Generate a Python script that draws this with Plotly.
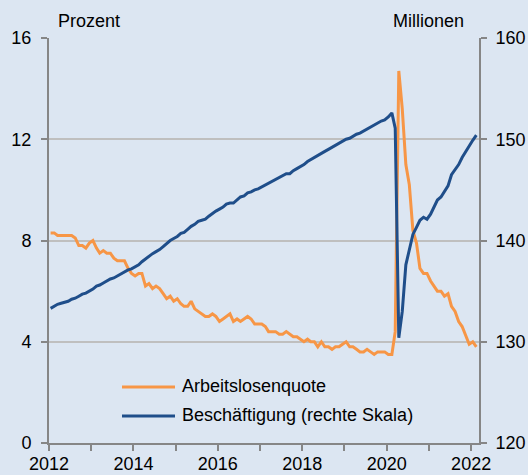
import plotly.graph_objects as go
import pandas as pd

# Monthly data, Jan 2012 - Feb 2022 (plotted mid-month)
months = pd.date_range("2012-01-01", periods=122, freq="MS") + pd.Timedelta(days=14)

unemployment_rate = [
    8.3, 8.3, 8.2, 8.2, 8.2, 8.2, 8.2, 8.1, 7.8, 7.8, 7.7, 7.9,   # 2012
    8.0, 7.7, 7.5, 7.6, 7.5, 7.5, 7.3, 7.2, 7.2, 7.2, 6.9, 6.7,   # 2013
    6.6, 6.7, 6.7, 6.2, 6.3, 6.1, 6.2, 6.1, 5.9, 5.7, 5.8, 5.6,   # 2014
    5.7, 5.5, 5.4, 5.4, 5.6, 5.3, 5.2, 5.1, 5.0, 5.0, 5.1, 5.0,   # 2015
    4.8, 4.9, 5.0, 5.1, 4.8, 4.9, 4.8, 4.9, 5.0, 4.9, 4.7, 4.7,   # 2016
    4.7, 4.6, 4.4, 4.4, 4.4, 4.3, 4.3, 4.4, 4.3, 4.2, 4.2, 4.1,   # 2017
    4.0, 4.1, 4.0, 4.0, 3.8, 4.0, 3.8, 3.8, 3.7, 3.8, 3.8, 3.9,   # 2018
    4.0, 3.8, 3.8, 3.7, 3.6, 3.6, 3.7, 3.6, 3.5, 3.6, 3.6, 3.6,   # 2019
    3.5, 3.5, 4.4, 14.7, 13.2, 11.0, 10.2, 8.4, 7.9, 6.9, 6.7, 6.7,  # 2020
    6.4, 6.2, 6.0, 6.0, 5.8, 5.9, 5.4, 5.2, 4.8, 4.6, 4.2, 3.9,   # 2021
    4.0, 3.8,                                                      # 2022
]

employment_mn = [
    133.3, 133.5, 133.7, 133.8, 133.9, 134.0, 134.2, 134.3, 134.5, 134.7, 134.8, 135.0,  # 2012
    135.2, 135.5, 135.6, 135.8, 136.0, 136.2, 136.3, 136.5, 136.7, 136.9, 137.1, 137.2,  # 2013
    137.4, 137.6, 137.9, 138.2, 138.4, 138.7, 138.9, 139.1, 139.4, 139.7, 140.0, 140.2,  # 2014
    140.4, 140.7, 140.8, 141.1, 141.4, 141.6, 141.9, 142.0, 142.1, 142.4, 142.7, 142.9,  # 2015
    143.1, 143.3, 143.6, 143.7, 143.7, 144.0, 144.3, 144.4, 144.7, 144.8, 145.0, 145.1,  # 2016
    145.3, 145.5, 145.6, 145.8, 146.0, 146.2, 146.4, 146.6, 146.6, 146.9, 147.1, 147.3,  # 2017
    147.5, 147.8, 148.0, 148.2, 148.4, 148.6, 148.8, 149.0, 149.2, 149.4, 149.6, 149.8,  # 2018
    150.0, 150.1, 150.3, 150.5, 150.6, 150.8, 151.0, 151.2, 151.4, 151.6, 151.8, 151.9,  # 2019
    152.2, 152.6, 151.1, 130.4, 133.0, 137.6, 139.0, 140.6, 141.3, 142.0, 142.3, 142.1,  # 2020
    142.6, 143.3, 144.0, 144.3, 144.8, 145.4, 146.5, 147.0, 147.5, 148.2, 148.8, 149.4,  # 2021
    149.9, 150.4,                                                                        # 2022
]

series_names = ["Arbeitslosenquote", "Beschäftigung (rechte Skala)"]
left_unit = "Prozent"
right_unit = "Millionen"

ORANGE = "#F79646"
BLUE = "#1F4E8A"
BG = "#DCE6F2"
AXIS = "#868686"
GRID = "#BFBFBF"
FONT = "Liberation Sans, Arial, sans-serif"

fig = go.Figure()
fig.add_trace(go.Scatter(x=months, y=unemployment_rate, mode="lines", name=series_names[0],
                         line=dict(color=ORANGE, width=3), yaxis="y"))
fig.add_trace(go.Scatter(x=months, y=employment_mn, mode="lines", name=series_names[1],
                         line=dict(color=BLUE, width=3), yaxis="y2"))

L, R, T, B = 49, 49, 38, 32
W, H = 528, 475
pw, ph = W - L - R, H - T - B

def px(x):
    return (x - L) / pw

def py(y):
    return (H - B - y) / ph

tick_common = dict(ticks="outside", ticklen=6, tickwidth=2, tickcolor=AXIS,
                   showline=True, linecolor=AXIS, linewidth=2, automargin=False,
                   tickfont=dict(family=FONT, size=18, color="black"), zeroline=False)

fig.update_layout(
    width=W, height=H,
    margin=dict(l=L, r=R, t=T, b=B, autoexpand=False),
    paper_bgcolor=BG, plot_bgcolor=BG,
    showlegend=False,
    hovermode=False,
    font=dict(family=FONT, size=18, color="black"),
    xaxis=dict(type="date", range=["2012-01-01", "2022-03-10"],
               tick0="2012-01-01", dtick="M24", tickformat="%Y",
               showgrid=False, ticklabelstandoff=-3,
               minor=dict(dtick="M12", tick0="2012-01-01", ticks="outside", ticklen=6,
                          tickwidth=2, tickcolor=AXIS, showgrid=False),
               **tick_common),
    yaxis=dict(range=[0, 16], tick0=0, dtick=4, showgrid=True, gridcolor=GRID, gridwidth=2,
               ticklabelstandoff=6, **tick_common),
    yaxis2=dict(range=[120, 160], tick0=120, dtick=10, overlaying="y", side="right",
                showgrid=False, ticklabelstandoff=5, **tick_common),
)

# axis unit labels
fig.add_annotation(x=px(56), y=py(21), xref="paper", yref="paper", text=left_unit,
                   showarrow=False, xanchor="left", yanchor="middle",
                   font=dict(family=FONT, size=18, color="black"))
fig.add_annotation(x=px(466), y=py(21), xref="paper", yref="paper", text=right_unit,
                   showarrow=False, xanchor="right", yanchor="middle",
                   font=dict(family=FONT, size=18, color="black"))

# legend (drawn manually to match the long line samples)
legend_rows = [(series_names[0], ORANGE, 387), (series_names[1], BLUE, 416)]
for name, color, yy in legend_rows:
    fig.add_shape(type="line", xref="paper", yref="paper",
                  x0=px(122), x1=px(175), y0=py(yy), y1=py(yy),
                  line=dict(color=color, width=3))
    fig.add_annotation(x=px(180), y=py(yy - 1), xref="paper", yref="paper", text=name,
                       showarrow=False, xanchor="left", yanchor="middle",
                       font=dict(family=FONT, size=18, color="black"))

fig.write_html(
    "out.html",
    config={"displayModeBar": False, "responsive": False},
    post_script=(
        "document.body.style.margin='0';"
        "document.body.style.overflow='hidden';"
        "document.documentElement.style.overflow='hidden';"
    ),
)
